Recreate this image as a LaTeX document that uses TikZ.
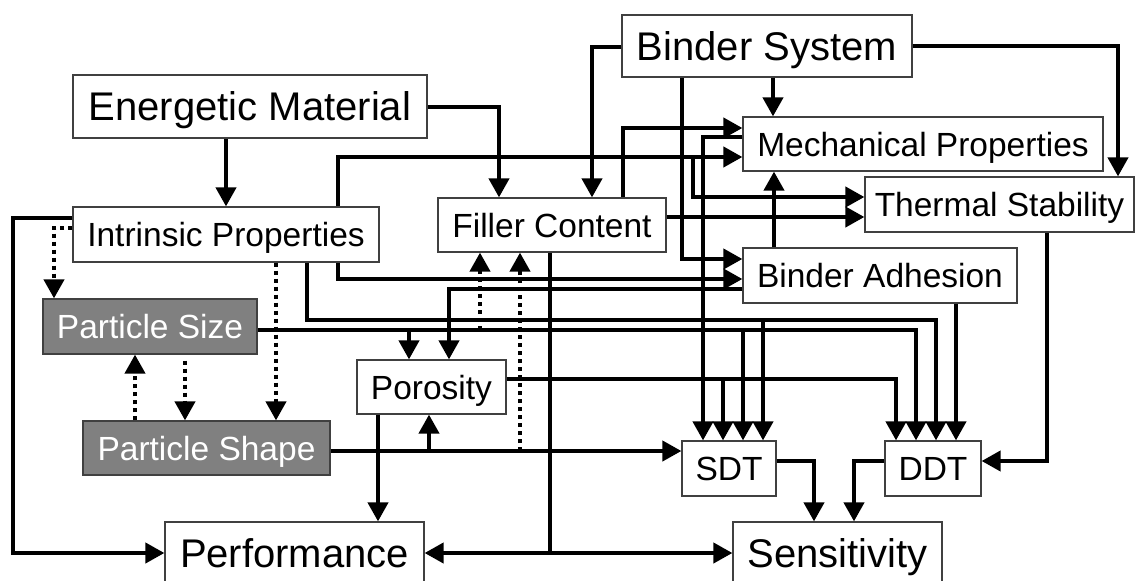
\documentclass[tikz,border=0pt]{standalone}
\usepackage{fontspec}
\setmainfont{Liberation Sans}
\usetikzlibrary{arrows.meta}
\definecolor{boxline}{HTML}{404040}
\definecolor{pgray}{HTML}{808080}
\begin{document}
\begin{tikzpicture}[x=1pt,y=-1pt,
  nbox/.style={draw=boxline,line width=1.2pt,fill=white,inner sep=0pt,text height=24pt,text depth=0pt,font=\fontsize{33.5}{40}\selectfont},
  bigbox/.style={nbox,text height=28.7pt,font=\fontsize{40}{48}\selectfont},
  gbox/.style={nbox,fill=pgray,text=white},
  conn/.style={line width=4pt,-{Triangle[length=19pt,width=20pt]}},
  plainline/.style={line width=4pt},
  dconn/.style={conn,dash pattern=on 4pt off 4pt}]
\useasboundingbox (0,0) rectangle (1136,581);
\clip (0,0) rectangle (1136,581);

% nodes
\node[bigbox,minimum width=290pt,minimum height=62pt] (bsys) at (767,46) {Binder System};
\node[bigbox,minimum width=354pt,minimum height=63pt] (em) at (250,106.5) {Energetic Material};
\node[nbox,minimum width=360pt,minimum height=54pt] (mech) at (923,144) {Mechanical Properties};
\node[nbox,minimum width=269pt,minimum height=55pt] (therm) at (999.5,204.5) {Thermal Stability};
\node[nbox,minimum width=228pt,minimum height=54pt] (filler) at (552,225) {Filler Content};
\node[nbox,minimum width=306pt,minimum height=55pt] (intr) at (226,234.5) {Intrinsic Properties};
\node[nbox,minimum width=274pt,minimum height=55pt] (badh) at (880,275.5) {Binder Adhesion};
\node[gbox,minimum width=214pt,minimum height=55pt] (psize) at (150,326.5) {Particle Size};
\node[nbox,minimum width=149pt,minimum height=54pt] (por) at (431.5,387) {Porosity};
\node[gbox,minimum width=247pt,minimum height=54pt] (pshape) at (206.5,448) {Particle Shape};
\node[nbox,minimum width=94pt,minimum height=55pt] (sdt) at (729,468.5) {SDT};
\node[nbox,minimum width=96pt,minimum height=55pt] (ddt) at (933,468.5) {DDT};
\node[bigbox,minimum width=259pt,minimum height=62pt] (perf) at (294.5,553) {Performance};
\node[bigbox,minimum width=209pt,minimum height=62pt] (sens) at (837.5,553) {Sensitivity};

% junction coordinates
\coordinate (jIT) at (693,157);
\coordinate (jIS) at (763,320);
\coordinate (jPS1) at (743,330);
\coordinate (jPS2) at (409,330);
\coordinate (jPS3) at (480,330);
\coordinate (jPo) at (723,379);
\coordinate (jSh1) at (429,451);
\coordinate (jSh2) at (520,451);
\coordinate (jF) at (550,553);
\coordinate (jL) at (13,553);

% solid connectors
\draw[conn] (em.south -| 226,0) -- (intr.north -| 226,0);
\draw[conn] (em.east |- 0,107) -| (filler.north -| 499,0);
\draw[conn] (bsys.west |- 0,47) -| (filler.north -| 592,0);
\draw[conn] (bsys.east |- 0,46) -| (therm.north -| 1118,0);
\draw[conn] (bsys.south -| 773,0) -- (mech.north -| 773,0);
\draw[conn] (bsys.south -| 682,0) |- (badh.west |- 0,259);
\draw[conn] (filler.north -| 623,0) |- (mech.west |- 0,128);
\draw[conn] (filler.east |- 0,217) -- (therm.west |- 0,217);
\draw[conn] (intr.north -| 338,0) |- (mech.west |- 0,157);
\draw[conn] (jIT) |- (therm.west |- 0,197);
\draw[conn] (intr.south -| 338,0) |- (badh.west |- 0,279);
\draw[conn] (badh.west |- 0,289) -| (por.north -| 449,0);
\draw[conn] (badh.north -| 774,0) -- (mech.south -| 774,0);
\draw[conn] (badh.south -| 956,0) -- (ddt.north -| 956,0);
\draw[conn] (mech.west |- 0,137) -| (sdt.north -| 703,0);
\draw[conn] (intr.south -| 307,0) |- (936,320) -- (ddt.north -| 936,0);
\draw[conn] (jIS) -- (sdt.north -| jIS);
\draw[conn] (psize.east |- 0,330) -| (ddt.north -| 916,0);
\draw[conn] (jPS1) -- (sdt.north -| jPS1);
\draw[conn] (jPS2) -- (por.north -| jPS2);
\draw[conn] (por.east |- 0,379) -| (ddt.north -| 896,0);
\draw[conn] (jPo) -- (sdt.north -| jPo);
\draw[conn] (pshape.east |- 0,451) -- (sdt.west |- 0,451);
\draw[conn] (jSh1) -- (por.south -| jSh1);
\draw[conn] (therm.south -| 1047,0) |- (ddt.east |- 0,461);
\draw[conn] (sdt.east |- 0,461) -| (sens.north -| 814,0);
\draw[conn] (ddt.west |- 0,461) -| (sens.north -| 854,0);
\draw[plainline] (filler.south -| jF) -- ([yshift=-2pt]jF);
\draw[conn] (jF) -- (perf.east |- jF);
\draw[conn] (jF) -- (sens.west |- jF);
\draw[conn] (intr.west |- 0,218) -| (jL) -- (perf.west |- jL);
\draw[conn] (por.south -| 378,0) -- (perf.north -| 378,0);

% dotted connectors
\draw[dconn] (intr.west |- 0,228) -| (psize.north -| 54,0);
\draw[dconn] (intr.south -| 276,0) -- (pshape.north -| 276,0);
\draw[dconn,shorten <=6pt] (psize.south -| 185,0) -- (pshape.north -| 185,0);
\draw[dconn] (pshape.north -| 135,0) -- (psize.south -| 135,0);
\draw[dconn] (jPS3) -- (filler.south -| jPS3);
\draw[dconn] (jSh2) -- (filler.south -| jSh2);
\end{tikzpicture}
\end{document}
